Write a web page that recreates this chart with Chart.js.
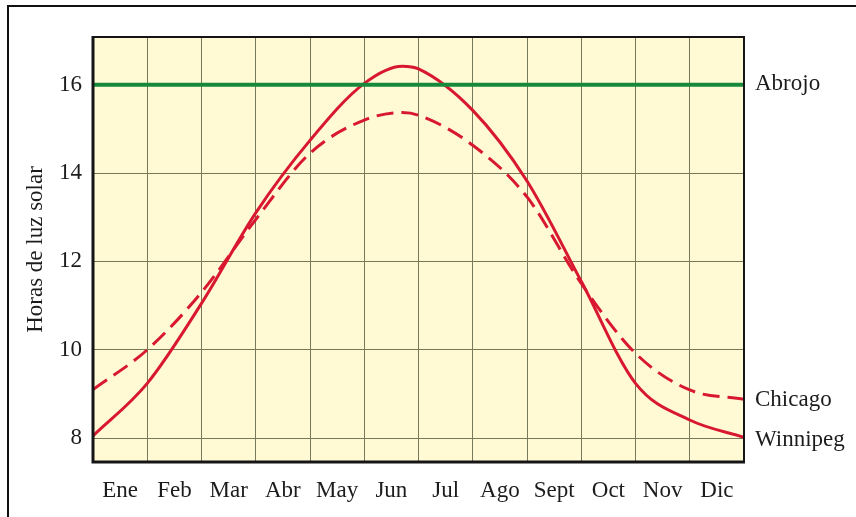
<!DOCTYPE html>
<html>
<head>
<meta charset="utf-8">
<script src="https://cdn.jsdelivr.net/npm/chart.js@4/dist/chart.umd.min.js"></script>
<style>
  html, body { margin: 0; padding: 0; background: #ffffff; }
  #wrap { width: 856px; height: 517px; position: relative; }
</style>
</head>
<body>
<div id="wrap"><canvas id="c" width="856" height="517"></canvas></div>
<script>
// ---- data ----
const months = ['Ene','Feb','Mar','Abr','May','Jun','Jul','Ago','Sept','Oct','Nov','Dic'];
const monthIndex = [0, 1, 2, 3, 4, 5, 5.7, 6, 7, 8, 9, 10, 11, 12];
const winnipeg = [8.05, 9.24, 11.05, 13.1, 14.74, 16.03, 16.42, 16.36, 15.42, 13.82, 11.55, 9.24, 8.41, 8.02];
const chicago  = [9.1, 10.0, 11.3, 12.95, 14.45, 15.2, 15.37, 15.31, 14.63, 13.46, 11.5, 9.92, 9.09, 8.88];
const abrojoIndex = [0, 12];
const abrojo = [16, 16];
const yTicks = [8, 10, 12, 14, 16];
const yTitle = 'Horas de luz solar';

const FONT = 'Liberation Serif';
const TXT = '#1c1c1c';
const RED = '#d8182f';
const GREEN = '#168a3a';

const toPts = (xs, ys) => xs.map((x, i) => ({ x: x, y: ys[i] }));

const framePlugin = {
  id: 'frame',
  beforeDraw(chart) {
    const { ctx, chartArea: a } = chart;
    ctx.save();
    ctx.fillStyle = '#fff9d4';
    ctx.fillRect(a.left, a.top, a.right - a.left, a.bottom - a.top);
    ctx.strokeStyle = '#111';
    ctx.lineWidth = 2;
    ctx.beginPath();
    ctx.moveTo(8, 517);
    ctx.lineTo(8, 6);
    ctx.lineTo(856, 6);
    ctx.stroke();
    ctx.restore();
  },
  afterDraw(chart) {
    const { ctx, chartArea: a } = chart;
    ctx.save();
    ctx.strokeStyle = '#151515';
    ctx.lineWidth = 2;
    ctx.beginPath();
    ctx.moveTo(a.left, a.top);
    ctx.lineTo(a.right, a.top);
    ctx.lineTo(a.right, a.bottom);
    ctx.stroke();
    ctx.lineWidth = 3;
    ctx.beginPath();
    ctx.moveTo(a.left, a.top - 1);
    ctx.lineTo(a.left, a.bottom);
    ctx.lineTo(a.right + 1, a.bottom);
    ctx.stroke();
    ctx.fillStyle = TXT;
    ctx.font = '23px "' + FONT + '"';
    ctx.textAlign = 'left';
    ctx.textBaseline = 'middle';
    chart.data.datasets.forEach((ds, i) => {
      const meta = chart.getDatasetMeta(i);
      const p = meta.data[meta.data.length - 1];
      ctx.fillText(ds.label, a.right + 11, p.y + (ds.labelDy || 0));
    });
    ctx.restore();
  }
};

new Chart(document.getElementById('c'), {
  type: 'line',
  data: {
    datasets: [
      { label: 'Abrojo', data: toPts(abrojoIndex, abrojo), borderColor: GREEN, borderWidth: 4, pointRadius: 0, labelDy: -1 },
      { label: 'Chicago', data: toPts(monthIndex, chicago), borderColor: RED, borderWidth: 3, borderDash: [17, 8], pointRadius: 0, cubicInterpolationMode: 'monotone', labelDy: 1 },
      { label: 'Winnipeg', data: toPts(monthIndex, winnipeg), borderColor: RED, borderWidth: 3, pointRadius: 0, cubicInterpolationMode: 'monotone', labelDy: 3 }
    ]
  },
  options: {
    responsive: false,
    animation: false,
    devicePixelRatio: 1,
    layout: { padding: { left: 0, top: 37, right: 112, bottom: 0 } },
    plugins: { legend: { display: false }, tooltip: { enabled: false } },
    scales: {
      x: {
        type: 'linear',
        min: 0, max: 12,
        afterBuildTicks: (s) => {
          const t = [];
          for (let i = 0; i <= 24; i++) t.push({ value: i / 2 });
          s.ticks = t;
        },
        afterFit: (s) => { s.height = 55; },
        border: { display: false },
        grid: {
          drawTicks: false,
          lineWidth: 1,
          color: (c) => (c.tick && Number.isInteger(c.tick.value)) ? '#77775a' : 'rgba(0,0,0,0)'
        },
        ticks: {
          autoSkip: false, maxRotation: 0, padding: 15,
          color: TXT,
          font: { family: FONT, size: 23 },
          callback: (v) => Number.isInteger(v) ? '' : months[Math.floor(v)]
        }
      },
      y: {
        type: 'linear',
        min: 7.46, max: 17.08,
        afterBuildTicks: (s) => { s.ticks = yTicks.map(v => ({ value: v })); },
        afterFit: (s) => { s.width = 93; },
        border: { display: false },
        grid: { drawTicks: false, lineWidth: 1, color: '#77775a' },
        ticks: {
          padding: 11, color: TXT,
          font: { family: FONT, size: 23 },
          callback: (v) => String(v)
        },
        title: {
          display: true, text: yTitle, color: TXT,
          font: { family: FONT, size: 23 },
          padding: { top: 22, bottom: 0 }
        }
      }
    }
  },
  plugins: [framePlugin]
});
</script>
</body>
</html>
